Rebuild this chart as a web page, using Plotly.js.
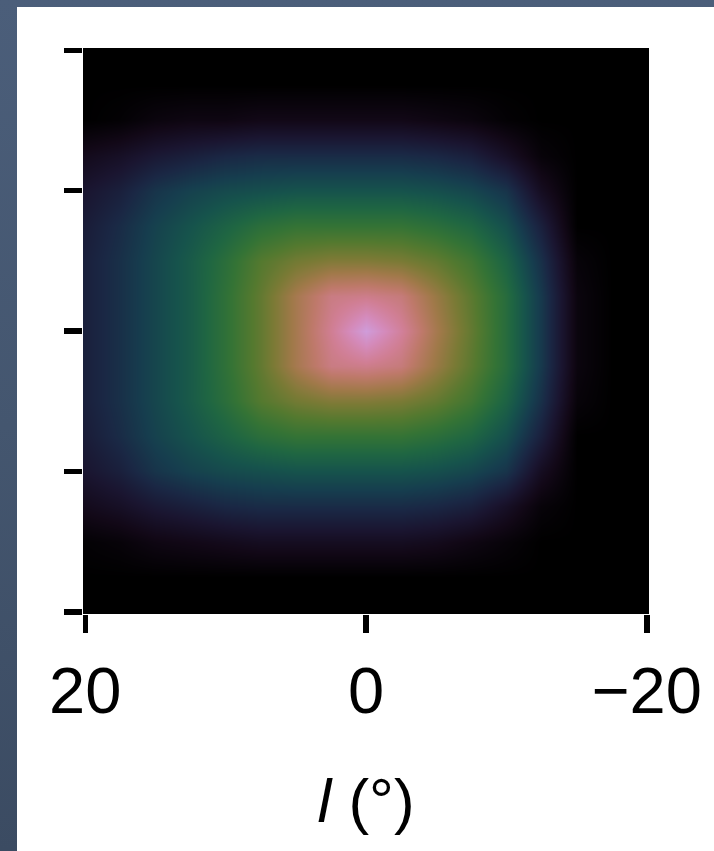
<!DOCTYPE html>
<html>
<head>
<meta charset="utf-8">
<script src="https://cdn.plot.ly/plotly-3.0.1.min.js"></script>
<style>
  html, body { margin: 0; padding: 0; width: 714px; height: 851px; overflow: hidden; }
  body { background: linear-gradient(to bottom, #4b5e7a 0%, #44566f 50%, #3b4b62 100%); position: relative; }
  #plot { position: absolute; left: 17px; top: 7px; width: 697px; height: 844px; background: #ffffff; }
</style>
</head>
<body>
<div id="plot"></div>
<script>
// Galactic longitude l (deg) grid, ascending
var lValues = [-20, -17.5, -15, -12.5, -10, -7.5, -5, -2.5, 0, 2.5, 5, 7.5, 10, 12.5, 15, 17.5, 20];
// Galactic latitude b (deg) grid, ascending
var bValues = [-20, -17.5, -15, -12.5, -10, -7.5, -5, -2.5, 0, 2.5, 5, 7.5, 10, 12.5, 15, 17.5, 20];

// Intensity (cubehelix fraction x 100); rows = b, columns = l
var intensity = [
  [0,0,0,0,0,0,0,0,0,0,0,0,0,0,0,0,0],
  [0,0,0,0,0,0,0,0,0,0,0,0,0,0,0,0,0],
  [0,0,0,0,2,4,6,7,7,7,7,7,6,5,4,2,1],
  [0,0,0,2,8,13,15,16,16,16,16,16,15,13,11,8,6],
  [0,0,0,7,18,22,24,25,25,25,25,24,23,21,18,13,10],
  [0,0,0,13,24,30,33,35,35,35,35,33,29,25,21,16,12],
  [0,0,2,17,29,37,42,45,46,46,44,40,33,27,22,17,13],
  [0,0,3,19,32,41,49,57,59,58,51,42,34,27,22,17,13],
  [0,0,3,19,32,42,51,61,70,60,51,42,34,27,22,17,13],
  [0,0,3,19,32,41,49,57,59,58,51,42,34,27,22,17,13],
  [0,0,2,17,29,37,42,45,46,46,44,40,33,27,22,17,13],
  [0,0,0,13,24,30,33,35,35,35,35,33,29,25,21,16,12],
  [0,0,0,7,18,22,24,25,25,25,25,24,23,21,18,13,10],
  [0,0,0,2,8,13,15,16,16,16,16,16,15,13,11,8,6],
  [0,0,0,0,1,3,4,5,5,5,5,5,4,4,3,1,0],
  [0,0,0,0,0,0,0,0,0,0,0,0,0,0,0,0,0],
  [0,0,0,0,0,0,0,0,0,0,0,0,0,0,0,0,0]
];

var xTickValues = [20, 0, -20];
var xTickLabels = ['20', '0', '\u221220'];
var yTickValues = [-20, -10, 0, 10, 20];

// cubehelix colour stops
var cubehelixStops = [0, 0.05, 0.1, 0.15, 0.2, 0.25, 0.3, 0.35, 0.4, 0.45, 0.5, 0.55, 0.6, 0.65, 0.7, 0.75, 0.8, 0.85, 0.9, 0.95, 1];
var cubehelixColors = ['rgb(0,0,0)','rgb(18,8,23)','rgb(26,21,48)','rgb(26,39,68)','rgb(22,61,78)','rgb(22,83,76)',
  'rgb(31,102,66)','rgb(52,115,53)','rgb(84,121,47)','rgb(122,122,53)','rgb(160,121,73)','rgb(190,121,106)',
  'rgb(208,126,147)','rgb(212,138,186)','rgb(207,156,218)','rgb(199,179,237)','rgb(193,202,243)',
  'rgb(197,222,242)','rgb(210,238,239)','rgb(232,248,242)','rgb(255,255,255)'];
var colorscale = cubehelixStops.map(function (s, k) { return [s, cubehelixColors[k]]; });

var trace = {
  type: 'heatmap',
  x: lValues,
  y: bValues,
  z: intensity,
  zmin: 0,
  zmax: 100,
  zsmooth: 'best',
  colorscale: colorscale,
  showscale: false,
  hoverinfo: 'skip'
};

var layout = {
  width: 697,
  height: 844,
  margin: { l: 66.3, r: 64.7, t: 41.3, b: 237 },
  paper_bgcolor: '#ffffff',
  plot_bgcolor: '#000000',
  showlegend: false,
  font: { family: '"Liberation Sans", Arial, Helvetica, sans-serif', color: '#000000' },
  xaxis: {
    range: [20.16, -20.16],
    tickmode: 'array',
    tickvals: xTickValues,
    ticktext: xTickLabels,
    ticks: 'outside',
    ticklen: 18,
    tickwidth: 5.5,
    tickcolor: '#000000',
    tickfont: { size: 65, color: '#000000' },
    ticklabelstandoff: 2,
    showgrid: false,
    zeroline: false,
    showline: false,
    title: { text: '<i>l</i> (°)', font: { size: 62, color: '#000000' }, standoff: 52 }
  },
  yaxis: {
    range: [-20.16, 20.16],
    tickmode: 'array',
    tickvals: yTickValues,
    ticks: 'outside',
    ticklen: 18,
    tickwidth: 5.5,
    tickcolor: '#000000',
    showticklabels: false,
    showgrid: false,
    zeroline: false,
    showline: false
  }
};

Plotly.newPlot('plot', [trace], layout, { displayModeBar: false, staticPlot: true });
</script>
</body>
</html>
